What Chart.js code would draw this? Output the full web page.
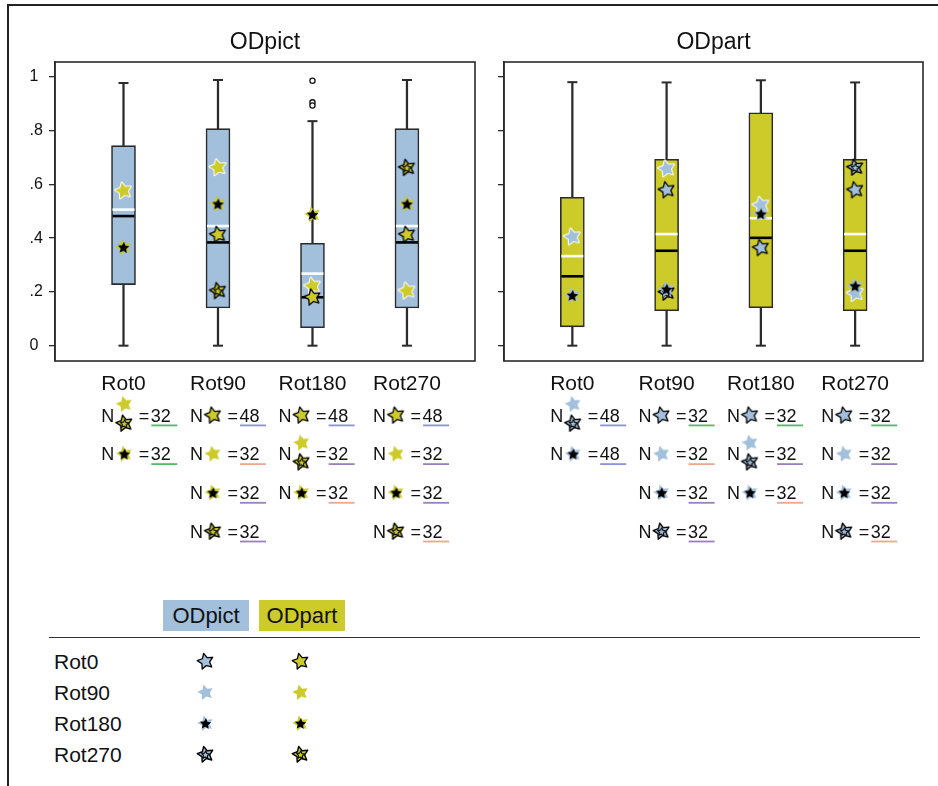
<!DOCTYPE html>
<html>
<head>
<meta charset="utf-8">
<script src="https://cdn.jsdelivr.net/npm/chart.js@4.4.1/dist/chart.umd.min.js"></script>
<style>
  body { margin: 0; background: #fff; width: 938px; height: 786px; position: relative; overflow: hidden;
         font-family: "Liberation Sans", Arial, sans-serif; color: #111; }
  #frame { position: absolute; left: 7px; top: 4px; width: 960px; height: 820px;
           border-top: 2px solid #222; border-left: 2px solid #222; }
  .panel { position: absolute; top: 0; }
  .key { position: absolute; font-size: 21px; line-height: 31px; }
  .head { position: absolute; top: 600px; width: 86px; height: 31px; line-height: 31px;
          text-align: center; font-size: 22px; }
  .rule { position: absolute; left: 49px; top: 636.5px; width: 871px; height: 1.6px; background: #333; }
  .icon { position: absolute; }
</style>
</head>
<body>
<div id="frame"></div>
<div class="panel" style="left:0"><canvas id="pict" width="490" height="560"></canvas></div>
<div class="panel" style="left:490px"><canvas id="part" width="448" height="560"></canvas></div>
<div id="legend"></div>

<script>
const fontFamily = '"Liberation Sans", Arial, sans-serif';
const ink = '#111';
const blue = '#a2bfdc';
const yellow = '#cdcb2a';

const rotations = ['Rot0', 'Rot90', 'Rot180', 'Rot270'];
const yTicks = [0, 0.2, 0.4, 0.6, 0.8, 1];
const yTickLabels = ['0', '.2', '.4', '.6', '.8', '1'];

// ODpict box summaries
const pictMin = [0, 0, 0, 0];
const pictQ1 = [0.227, 0.140, 0.067, 0.140];
const pictMedian = [0.482, 0.384, 0.180, 0.384];
const pictMean = [0.506, 0.445, 0.268, 0.445];
const pictQ3 = [0.744, 0.807, 0.381, 0.807];
const pictMax = [0.977, 0.988, 0.835, 0.988];
const pictOutliers = [[], [], [0.985, 0.905, 0.893], []];

// ODpart box summaries
const partMin = [0, 0, 0, 0];
const partQ1 = [0.070, 0.130, 0.141, 0.130];
const partMedian = [0.258, 0.353, 0.401, 0.353];
const partMean = [0.333, 0.415, 0.474, 0.415];
const partQ3 = [0.552, 0.693, 0.866, 0.693];
const partMax = [0.980, 0.979, 0.987, 0.979];
const partOutliers = [[], [], [], []];

// ODpart means shown over the ODpict boxes, one array per rotation marker
const pictStarRot0 = [null, 0.413, 0.180, 0.413];
const pictStarRot90 = [0.576, 0.663, 0.222, 0.204];
const pictStarRot180 = [0.366, 0.527, 0.488, 0.527];
const pictStarRot270 = [null, 0.204, null, 0.662];

// ODpict means shown over the ODpart boxes
const partStarRot0 = [null, 0.579, 0.364, 0.579];
const partStarRot90 = [0.405, 0.658, 0.523, 0.195];
const partStarRot180 = [0.187, 0.210, 0.490, 0.222];
const partStarRot270 = [null, 0.198, null, 0.663];

// N tables under each box: marker(s), count, underline colour
const nIcons = [
  [['Rot90', 'Rot270'], ['Rot180']],
  [['Rot0'], ['Rot90'], ['Rot180'], ['Rot270']],
  [['Rot0'], ['Rot90', 'Rot270'], ['Rot180']],
  [['Rot0'], ['Rot90'], ['Rot180'], ['Rot270']]
];
const pictN = [[32, 32], [48, 32, 32, 32], [48, 32, 32], [48, 32, 32, 32]];
const pictNLine = [['green', 'green'], ['blue', 'salmon', 'purple', 'purple'],
                   ['blue', 'purple', 'salmon'], ['blue', 'purple', 'purple', 'salmon']];
const partN = [[48, 48], [32, 32, 32, 32], [32, 32, 32], [32, 32, 32, 32]];
const partNLine = [['blue', 'blue'], ['green', 'salmon', 'purple', 'purple'],
                   ['green', 'purple', 'salmon'], ['green', 'purple', 'purple', 'salmon']];
const lineColors = { green: '#55bb66', blue: '#8a93d6', salmon: '#eaa98f', purple: '#9b7fc0' };

// ---- star markers ----
function starPath(g, cx, cy, R, r, rot) {
  g.beginPath();
  for (let k = 0; k < 10; k++) {
    const a = rot - Math.PI / 2 + k * Math.PI / 5;
    const rad = k % 2 ? r : R;
    g.lineTo(cx + rad * Math.cos(a), cy + rad * Math.sin(a));
  }
  g.closePath();
}

const starCache = {};
function star(style, fill, R) {
  const key = style + fill + R;
  if (starCache[key]) return starCache[key];
  const size = Math.ceil(R * 2 + 6);
  const c = document.createElement('canvas');
  c.width = c.height = size;
  const g = c.getContext('2d');
  const m = size / 2, rot = -0.22;
  g.lineJoin = 'round';
  starPath(g, m, m, R, R * 0.5, rot);
  if (style === 'Rot90') {
    g.strokeStyle = '#fff'; g.lineWidth = 2; g.stroke();
    g.fillStyle = fill; g.fill();
  } else if (style === 'Rot0') {
    g.fillStyle = fill; g.fill();
    g.strokeStyle = '#000'; g.lineWidth = 1.3; g.stroke();
  } else if (style === 'Rot180') {
    g.fillStyle = fill; g.fill();
    starPath(g, m, m + 0.5, R * 0.72, R * 0.34, rot + 0.3);
    g.fillStyle = '#000'; g.fill();
  } else {
    g.fillStyle = fill; g.fill();
    g.strokeStyle = '#000'; g.lineWidth = 1.4; g.stroke();
    starPath(g, m, m + 0.5, R * 0.5, R * 0.25, rot + 0.3);
    g.lineWidth = 1.1; g.stroke();
  }
  starCache[key] = c;
  return c;
}

function drawIcon(ctx, img, x, y) {
  ctx.drawImage(img, x - img.width / 2, y - img.height / 2);
}

// ---- plugins ----
const framePlugin = {
  id: 'frame',
  afterDraw(chart, args, o) {
    const { ctx, chartArea: a } = chart;
    ctx.save();
    ctx.strokeStyle = '#2b2b2b';
    ctx.lineWidth = 1.6;
    ctx.strokeRect(a.left, a.top, a.right - a.left, a.bottom - a.top);
    ctx.font = '23px ' + fontFamily;
    ctx.fillStyle = ink;
    ctx.textAlign = 'center';
    ctx.textBaseline = 'alphabetic';
    ctx.fillText(o.title, (a.left + a.right) / 2, 48.5);
    ctx.restore();
  }
};

const nRowsPlugin = {
  id: 'nrows',
  afterDraw(chart, args, o) {
    const ctx = chart.ctx, xs = chart.scales.x, base = chart.chartArea.bottom;
    ctx.save();
    ctx.textAlign = 'left';
    ctx.textBaseline = 'alphabetic';
    rotations.forEach((rot, i) => {
      ctx.font = '21px ' + fontFamily;
      const left = xs.getPixelForValue(i) - ctx.measureText(rot).width / 2;
      ctx.font = '18px ' + fontFamily;
      nIcons[i].forEach((styles, j) => {
        const y = base + 60.7 + j * 38.7;
        ctx.fillStyle = ink;
        ctx.fillText('N', left, y);
        if (styles.length === 1) {
          drawIcon(ctx, star(styles[0], o.fill, 8.5), left + 23, y - 6.4);
        } else {
          drawIcon(ctx, star(styles[0], o.fill, 8.5), left + 23, y - 17.5);
          drawIcon(ctx, star(styles[1], o.fill, 8.5), left + 23, y + 1.7);
        }
        ctx.fillStyle = ink;
        ctx.fillText('=', left + 37.5, y);
        ctx.fillText(String(o.n[i][j]), left + 49.5, y);
        ctx.fillStyle = lineColors[o.lines[i][j]];
        ctx.fillRect(left + 50, y + 2.8, 26, 1.8);
      });
    });
    ctx.restore();
  }
};

// ---- panels ----
function makePanel(id, s) {
  const idx = rotations.map((_, i) => i);
  const pts = arr => idx.filter(i => arr[i] !== null).map(i => ({ x: i, y: arr[i] }));
  const pointSet = (data, extra) => Object.assign({
    type: 'scatter', data, showLine: false, pointHoverRadius: 0
  }, extra);

  const datasets = [
    { type: 'bar', data: idx.map(i => ({ x: i, y: [s.min[i], s.max[i]] })),
      backgroundColor: '#2b2b2b', barThickness: 1.6, grouped: false, order: 20 },
    { type: 'bar', data: idx.map(i => ({ x: i, y: [s.q1[i], s.q3[i]] })),
      backgroundColor: s.boxFill, borderColor: '#2b2b2b', borderWidth: 1.6,
      borderSkipped: false, barThickness: 24, grouped: false, order: 19 },
    pointSet(idx.flatMap(i => [{ x: i, y: s.min[i] }, { x: i, y: s.max[i] }]),
      { pointStyle: 'line', pointRadius: 5, pointBorderColor: '#2b2b2b', pointBorderWidth: 2, order: 18 }),
    pointSet(idx.map(i => ({ x: i, y: s.median[i] })),
      { pointStyle: 'line', pointRadius: 11, pointBorderColor: '#000', pointBorderWidth: 2.6, order: 17 }),
    pointSet(idx.map(i => ({ x: i, y: s.mean[i] })),
      { pointStyle: 'line', pointRadius: 11, pointBorderColor: '#fff', pointBorderWidth: 2.6, order: 16 }),
    pointSet(idx.flatMap(i => s.outliers[i].map(v => ({ x: i, y: v }))),
      { pointStyle: 'circle', pointRadius: 2.6, pointBackgroundColor: '#fff',
        pointBorderColor: '#111', pointBorderWidth: 1.3, order: 15 }),
    pointSet(pts(s.stars.Rot90), { pointStyle: star('Rot90', s.starFill, 8.5), order: 4 }),
    pointSet(pts(s.stars.Rot270), { pointStyle: star('Rot270', s.starFill, 8.5), order: 3 }),
    pointSet(pts(s.stars.Rot0), { pointStyle: star('Rot0', s.starFill, 8.5), order: 2 }),
    pointSet(pts(s.stars.Rot180), { pointStyle: star('Rot180', s.starFill, 8.5), order: 1 })
  ];

  return new Chart(document.getElementById(id), {
    type: 'bar',
    data: { datasets },
    options: {
      responsive: false,
      animation: false,
      events: [],
      devicePixelRatio: 1,
      layout: { padding: s.padding },
      scales: {
        x: {
          type: 'linear', min: -0.725, max: 3.72, offset: false,
          grid: { display: false, drawTicks: false },
          border: { display: false },
          afterBuildTicks: a => { a.ticks = idx.map(i => ({ value: i })); },
          afterFit: a => { a.height = 30; },
          ticks: { callback: v => rotations[v], autoSkip: false, maxRotation: 0,
                   padding: 11, color: ink, font: { size: 21, family: fontFamily } }
        },
        y: {
          min: -0.057, max: 1.055,
          afterBuildTicks: a => { a.ticks = yTicks.map(v => ({ value: v })); },
          afterFit: a => { a.width = s.yWidth; },
          grid: { drawOnChartArea: false, tickLength: 6, color: '#2b2b2b', lineWidth: 1.3 },
          border: { color: '#2b2b2b', width: 1.6 },
          ticks: { callback: v => s.showLabels ? yTickLabels[yTicks.indexOf(v)] : '',
                   crossAlign: 'far', padding: 4, color: ink, font: { size: 16, family: fontFamily } }
        }
      },
      plugins: {
        legend: { display: false },
        tooltip: { enabled: false },
        frame: { title: s.title },
        nrows: { fill: s.starFill, n: s.n, lines: s.lines }
      }
    },
    plugins: [framePlugin, nRowsPlugin]
  });
}

makePanel('pict', {
  title: 'ODpict', boxFill: blue, starFill: yellow, showLabels: true,
  padding: { left: 29.5, right: 15, top: 62, bottom: 169 }, yWidth: 25.5,
  min: pictMin, q1: pictQ1, median: pictMedian, mean: pictMean, q3: pictQ3, max: pictMax,
  outliers: pictOutliers,
  stars: { Rot0: pictStarRot0, Rot90: pictStarRot90, Rot180: pictStarRot180, Rot270: pictStarRot270 },
  n: pictN, lines: pictNLine
});

makePanel('part', {
  title: 'ODpart', boxFill: yellow, starFill: blue, showLabels: false,
  padding: { left: 4, right: 15, top: 62, bottom: 169 }, yWidth: 10,
  min: partMin, q1: partQ1, median: partMedian, mean: partMean, q3: partQ3, max: partMax,
  outliers: partOutliers,
  stars: { Rot0: partStarRot0, Rot90: partStarRot90, Rot180: partStarRot180, Rot270: partStarRot270 },
  n: partN, lines: partNLine
});

// ---- marker key ----
const legend = document.getElementById('legend');
const keyColumns = [{ name: 'ODpict', fill: blue, x: 205.7, left: 163 },
                    { name: 'ODpart', fill: yellow, x: 300, left: 259 }];
keyColumns.forEach(col => {
  const h = document.createElement('div');
  h.className = 'head';
  h.style.left = col.left + 'px';
  h.style.background = col.fill;
  h.textContent = col.name;
  legend.appendChild(h);
});
const rule = document.createElement('div');
rule.className = 'rule';
legend.appendChild(rule);
rotations.forEach((rot, i) => {
  const t = document.createElement('div');
  t.className = 'key';
  t.style.left = '54px';
  t.style.top = (645.5 + i * 31) + 'px';
  t.textContent = rot;
  legend.appendChild(t);
  keyColumns.forEach(col => {
    const src = star(rot, col.fill, 8.3);
    const c = document.createElement('canvas');
    c.width = src.width; c.height = src.height;
    c.getContext('2d').drawImage(src, 0, 0);
    c.className = 'icon';
    c.style.left = (col.x - src.width / 2) + 'px';
    c.style.top = (661 + i * 31 - src.height / 2) + 'px';
    legend.appendChild(c);
  });
});
</script>
</body>
</html>
